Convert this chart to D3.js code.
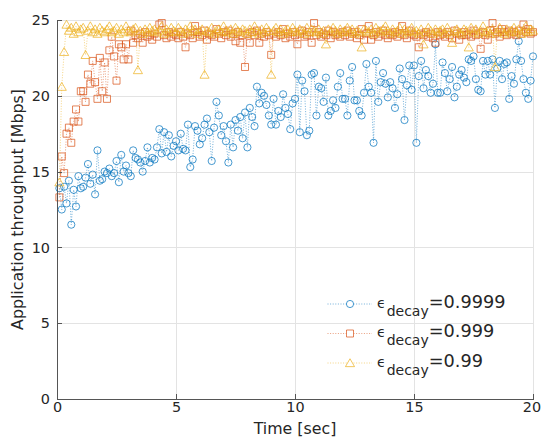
<!DOCTYPE html>
<html>
<head>
<meta charset="utf-8">
<script src="https://cdn.jsdelivr.net/npm/d3@7"></script>
<style>
  body { margin: 0; background: #fff; }
  svg { font-family: "DejaVu Sans", sans-serif; }
  .grid line { stroke: #e3e3e3; }
  .grid path { display: none; }
  .axis path, .axis line { stroke: #555; }
  .axis text { fill: #262626; font-size: 14.4px; }
</style>
</head>
<body>
<div id="chart"></div>
<script>
// time axis: one sample every 0.1 s
const times = d3.range(1, 201).map(i => i / 10);

const xTicks = [0, 5, 10, 15, 20];
const yTicks = [0, 5, 10, 15, 20, 25];

const seriesNames = ['0.9999', '0.999', '0.99'];

// epsilon_decay = 0.9999
const blueValues = [
  13.9, 12.5, 14.0, 12.9, 14.4, 11.5, 13.8, 12.7, 14.7, 13.9,
  14.0, 14.6, 15.5, 14.2, 14.8, 13.5, 16.4, 14.4, 14.5, 15.0,
  14.9, 15.2, 14.7, 14.9, 15.7, 14.3, 16.1, 15.0, 15.4, 14.9,
  14.7, 16.4, 15.9, 15.8, 15.6, 15.0, 15.7, 16.6, 15.6, 15.9,
  15.8, 16.6, 17.8, 16.2, 17.6, 16.3, 17.4, 16.0, 16.7, 17.0,
  16.4, 17.5, 16.5, 16.4, 18.1, 15.3, 15.8, 18.0, 17.7, 16.8,
  17.2, 18.1, 18.5, 17.6, 15.7, 17.9, 19.6, 18.7, 17.4, 18.0,
  17.0, 15.6, 18.1, 16.6, 18.4, 17.7, 18.6, 17.2, 18.9, 16.6,
  19.2, 18.6, 18.0, 20.6, 19.5, 20.2, 20.0, 19.4, 18.7, 18.1,
  19.8, 18.1, 19.0, 18.6, 20.1, 19.2, 18.8, 17.8, 19.5, 19.8,
  21.4, 17.6, 21.0, 20.3, 17.4, 17.7, 21.4, 21.5, 18.7, 20.6,
  20.5, 19.6, 21.2, 18.7, 19.0, 19.7, 19.2, 20.6, 21.5, 19.8,
  19.8, 18.7, 21.0, 21.9, 19.7, 19.7, 19.0, 18.7, 20.2, 22.1,
  20.6, 20.2, 16.9, 22.3, 19.6, 20.9, 21.5, 20.8, 19.9, 20.9,
  20.5, 19.2, 20.1, 21.8, 21.1, 18.4, 20.7, 22.0, 20.4, 22.0,
  16.9, 21.3, 22.3, 20.5, 21.7, 21.3, 20.2, 20.8, 23.4, 20.2,
  20.2, 22.2, 21.5, 20.3, 21.1, 21.9, 19.9, 20.6, 21.4, 21.7,
  21.2, 20.9, 22.4, 22.3, 22.6, 21.1, 20.4, 20.3, 22.3, 21.4,
  22.3, 21.4, 22.4, 19.2, 21.8, 22.3, 21.1, 22.1, 22.2, 19.8,
  21.3, 20.8, 22.4, 23.6, 22.3, 21.1, 20.2, 19.8, 21.0, 22.6
];

// epsilon_decay = 0.999
const orangeValues = [
  13.3, 16.0, 14.9, 17.5, 17.9, 16.9, 18.3, 19.1, 18.3, 20.3,
  20.3, 19.6, 21.4, 20.8, 22.3, 20.9, 19.8, 22.5, 20.3, 22.2,
  19.8, 23.0, 23.9, 22.6, 21.0, 23.4, 23.2, 22.4, 23.4, 22.4,
  24.3, 23.5, 24.0, 23.8, 24.1, 23.5, 24.2, 23.9, 24.0, 23.7,
  24.1, 23.9, 24.7, 24.8, 24.0, 23.8, 24.2, 23.9, 24.1, 24.0,
  23.8, 24.2, 23.9, 23.2, 24.1, 24.0, 23.8, 24.6, 24.2, 23.9,
  24.0, 24.3, 23.7, 24.1, 24.0, 23.9, 24.4, 24.1, 23.8, 24.2,
  24.0, 24.3, 23.9, 24.1, 23.6, 24.2, 23.5, 24.0, 21.9, 24.1,
  23.5, 24.2, 24.0, 24.3, 23.5, 24.1, 23.9, 24.2, 24.0, 22.7,
  24.1, 23.9, 24.2, 24.0, 24.4, 23.8, 24.1, 23.9, 24.2, 24.0,
  23.4, 24.1, 24.3, 23.9, 24.0, 24.2, 23.5, 24.8, 24.0, 24.2,
  23.9, 24.1, 24.0, 24.3, 23.8, 24.2, 24.0, 24.1, 23.9, 24.2,
  24.0, 24.3, 23.9, 24.1, 24.2, 23.8, 24.0, 24.4, 23.7, 24.1,
  24.6, 23.7, 24.0, 24.2, 23.9, 24.1, 24.3, 24.0, 23.8, 24.1,
  24.0, 24.2, 23.9, 24.1, 24.6, 24.0, 23.8, 24.3, 24.1, 24.0,
  23.9, 23.2, 24.1, 24.0, 24.2, 23.9, 24.1, 23.8, 23.5, 24.2,
  24.0, 24.1, 23.9, 24.2, 24.0, 23.8, 24.3, 24.1, 23.7, 24.0,
  24.2, 24.0, 24.1, 23.9, 24.3, 24.0, 24.1, 23.1, 24.2, 24.0,
  23.7, 24.3, 24.8, 24.1, 24.2, 23.9, 24.4, 24.2, 24.0, 24.3,
  24.1, 24.2, 24.0, 24.3, 24.1, 24.7, 24.2, 24.4, 24.1, 24.2
];

// epsilon_decay = 0.99
const yellowValues = [
  14.3, 20.6, 22.9, 24.7, 24.3, 24.5, 24.1, 24.6, 24.2, 24.4,
  24.5, 22.7, 24.3, 24.6, 24.2, 24.4, 24.1, 24.5, 24.3, 24.2,
  24.4, 24.6, 24.2, 24.3, 24.5, 24.1, 24.4, 24.2, 24.6, 24.3,
  24.2, 24.4, 24.5, 21.7, 24.3, 24.1, 24.4, 24.2, 24.5, 24.3,
  24.4, 24.2, 24.3, 24.6, 24.1, 24.4, 24.2, 24.5, 24.3, 24.2,
  24.5, 24.3, 24.1, 24.4, 24.2, 24.6, 24.3, 24.4, 24.1, 24.3,
  24.4, 21.4, 24.3, 24.2, 24.5, 24.1, 24.3, 24.4, 24.2, 24.6,
  24.3, 24.2, 24.4, 24.1, 24.5, 24.3, 24.2, 24.4, 24.3, 24.1,
  24.4, 24.2, 24.6, 24.3, 24.1, 24.4, 24.2, 24.5, 24.3, 21.4,
  24.3, 24.5, 24.2, 24.4, 24.1, 24.3, 24.4, 24.2, 24.5, 24.3,
  24.2, 24.4, 24.3, 24.1, 24.5, 24.2, 24.4, 24.3, 24.2, 24.4,
  24.1, 24.3, 23.4, 24.4, 24.2, 24.5, 24.3, 24.1, 24.4, 24.2,
  24.3, 24.5, 24.2, 24.4, 24.1, 24.3, 24.2, 23.2, 24.4, 24.3,
  24.2, 24.4, 24.1, 24.5, 24.3, 24.2, 24.4, 24.6, 24.3, 24.1,
  24.4, 24.2, 24.3, 24.5, 24.1, 24.4, 24.2, 24.3, 24.5, 24.2,
  24.3, 24.1, 24.4, 23.4, 24.2, 24.5, 24.3, 24.1, 24.4, 24.2,
  24.3, 24.4, 24.1, 24.5, 24.2, 23.5, 24.3, 24.4, 24.2, 24.1,
  24.4, 24.3, 23.2, 24.5, 24.2, 24.4, 24.1, 24.3, 24.6, 24.2,
  24.3, 24.1, 24.4, 21.9, 24.2, 24.5, 24.3, 24.1, 24.4, 24.2,
  24.3, 24.5, 24.2, 24.4, 24.1, 24.3, 24.6, 24.2, 24.4, 24.3
];

const colors = ['#0072BD', '#D95319', '#EDB120'];
const markerTypes = ['circle', 'square', 'triangle'];

const series = [blueValues, orangeValues, yellowValues].map((vals, i) => ({
  name: seriesNames[i],
  color: colors[i],
  marker: markerTypes[i],
  points: vals.map((v, j) => ({ t: times[j], v: v }))
}));

const width = 541, height = 438;
const margin = { top: 20, right: 8, bottom: 39, left: 57 };
const innerW = width - margin.left - margin.right;
const innerH = height - margin.top - margin.bottom;

const svg = d3.select('#chart').append('svg')
  .attr('width', width)
  .attr('height', height);

const g = svg.append('g')
  .attr('transform', `translate(${margin.left},${margin.top})`);

const x = d3.scaleLinear().domain([0, 20]).range([0, innerW]);
const y = d3.scaleLinear().domain([0, 25]).range([innerH, 0]);

// grid
g.append('g')
  .attr('class', 'grid')
  .attr('transform', `translate(0,${innerH})`)
  .call(d3.axisBottom(x).tickValues(xTicks).tickSize(-innerH).tickFormat(''))
  .selectAll('line').attr('shape-rendering', 'crispEdges');

g.append('g')
  .attr('class', 'grid')
  .call(d3.axisLeft(y).tickValues(yTicks).tickSize(-innerW).tickFormat(''))
  .selectAll('line').attr('shape-rendering', 'crispEdges');

// marker shapes
const symbolFor = {
  circle: d3.symbol().type(d3.symbolCircle).size(Math.PI * 3.6 * 3.6),
  square: d3.symbol().type(d3.symbolSquare).size(7 * 7),
  triangle: d3.symbol().type(d3.symbolTriangle).size(36)
};

const line = d3.line()
  .x(d => x(d.t))
  .y(d => y(d.v));

series.forEach(s => {
  const sg = g.append('g').attr('class', 'series');
  sg.append('path')
    .datum(s.points)
    .attr('d', line)
    .attr('fill', 'none')
    .attr('stroke', s.color)
    .attr('stroke-width', 0.8)
    .attr('stroke-opacity', 0.7)
    .attr('stroke-dasharray', '1,1.6');

  sg.selectAll('path.marker')
    .data(s.points)
    .enter().append('path')
    .attr('class', 'marker')
    .attr('d', symbolFor[s.marker])
    .attr('transform', d => `translate(${x(d.t)},${y(d.v) + (s.marker === 'triangle' ? 1 : 0)})`)
    .attr('fill', 'none')
    .attr('stroke', s.color)
    .attr('stroke-width', 0.9)
    .attr('stroke-opacity', 0.8);
});

// axes, ticks pointing inward
g.append('g')
  .attr('class', 'axis')
  .attr('transform', `translate(0,${innerH})`)
  .call(d3.axisBottom(x).tickValues(xTicks).tickSize(-5).tickPadding(3))
  .selectAll('.tick text')
  .attr('dx', d => d === 20 ? -1.5 : 0);

g.append('g')
  .attr('class', 'axis')
  .call(d3.axisLeft(y).tickValues(yTicks).tickSize(-5).tickPadding(7));

g.selectAll('.axis path, .axis line').attr('shape-rendering', 'crispEdges');
g.selectAll('.axis text').attr('font-family', '"DejaVu Sans", sans-serif');

// axis labels
svg.append('text')
  .attr('x', margin.left + innerW / 2)
  .attr('y', 434)
  .attr('text-anchor', 'middle')
  .attr('fill', '#262626')
  .style('font-size', '15.8px')
  .text('Time [sec]');

svg.append('text')
  .attr('transform', `translate(23,${margin.top + innerH / 2}) rotate(-90)`)
  .attr('text-anchor', 'middle')
  .attr('fill', '#262626')
  .style('font-size', '15.8px')
  .text('Application throughput [Mbps]');

// legend
const legend = svg.append('g').attr('class', 'legend');
const legendRows = [304, 333.5, 363];

series.forEach((s, i) => {
  const row = legend.append('g').attr('transform', `translate(0,${legendRows[i]})`);
  row.append('line')
    .attr('x1', 327.5).attr('x2', 372)
    .attr('y1', 0).attr('y2', 0)
    .attr('stroke', s.color)
    .attr('stroke-width', 0.8)
    .attr('stroke-opacity', 0.7)
    .attr('stroke-dasharray', '1,1.6');
  row.append('path')
    .attr('d', symbolFor[s.marker])
    .attr('transform', `translate(350,${s.marker === 'triangle' ? 1 : 0})`)
    .attr('fill', '#fff')
    .attr('stroke', s.color)
    .attr('stroke-width', 0.9)
    .attr('stroke-opacity', 0.8);

  const txt = row.append('text')
    .attr('x', 377)
    .attr('y', 3.5)
    .attr('fill', '#262626');
  txt.append('tspan').style('font-size', '14px').text('\u03F5');
  txt.append('tspan').attr('dy', 8).attr('dx', 1).style('font-size', '14px').text('decay');
  txt.append('tspan').attr('dy', -8).style('font-size', '17.7px').text('=' + s.name);
});
</script>
</body>
</html>
